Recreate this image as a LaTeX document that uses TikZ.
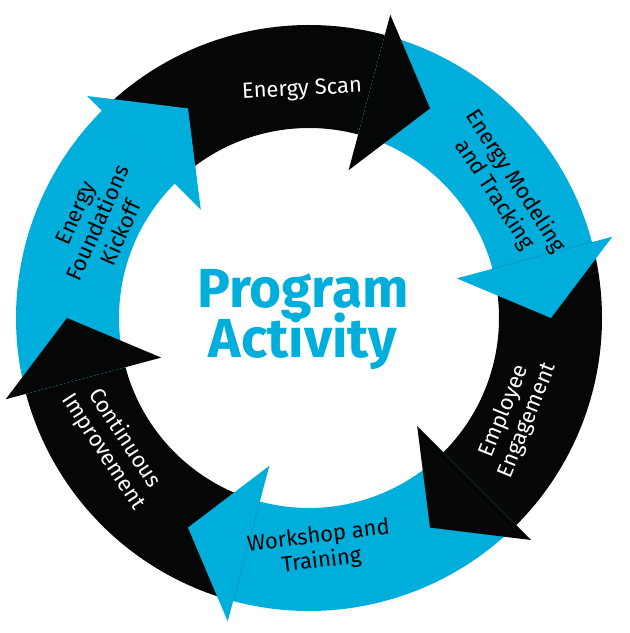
\documentclass[tikz,border=0pt]{standalone}
\usepackage{fontspec}
\setmainfont{Fira Sans}
\definecolor{ringcyan}{HTML}{00AEDB}
\definecolor{ringblack}{HTML}{050707}

\tikzset{
  lbl/.style = {align=center, font=\fontsize{22}{25}\selectfont, inner sep=0pt},
  title/.style = {align=center, text=ringcyan, font=\bfseries\fontsize{55}{60}\selectfont}
}

\begin{document}
\begin{tikzpicture}[x=1pt, y=1pt]
			\useasboundingbox (0,0) rectangle (630,633);
			% ring bodies
			\foreach \a/\col in {60/ringblack, 0/ringcyan, -60/ringblack, -120/ringcyan, 180/ringblack, 120/ringcyan}{
				\fill[\col, shift={(309,315)}] ({\a+75}:293) arc[start angle=\a+75, end angle=\a+15, radius=293]
					-- ({\a+15}:190) arc[start angle=\a+15, end angle=\a+75, radius=190] -- cycle;
			}
			% arrow heads
			\foreach \a/\col in {60/ringblack, 0/ringcyan, -60/ringblack, -120/ringcyan, 180/ringblack, 120/ringcyan}{
				\fill[\col, shift={(309,315)}] ({\a+15}:314) -- (\a:242) -- ({\a+15}:153) -- cycle;
			}
			\node[title] (prog) at (303,313) {Program\\[-10pt]Activity};
			\node[lbl, text=white, rotate=3] (scan) at (302,543) {Energy Scan};
			\node[lbl, rotate=-57] (model) at (505,445) {Energy Modeling\\and Tracking};
			\node[lbl, text=white, rotate=68] (employ) at (516,217) {Employee\\Engagement};
			\node[lbl, rotate=7] (work) at (320,84) {Workshop and\\Training};
			\node[lbl, text=white, rotate=-57] (cont) at (114,188) {Continuous\\Improvement};
			\node[lbl, rotate=66] (found) at (98,410) {Energy\\Foundations\\Kickoff};
\end{tikzpicture}
\end{document}
